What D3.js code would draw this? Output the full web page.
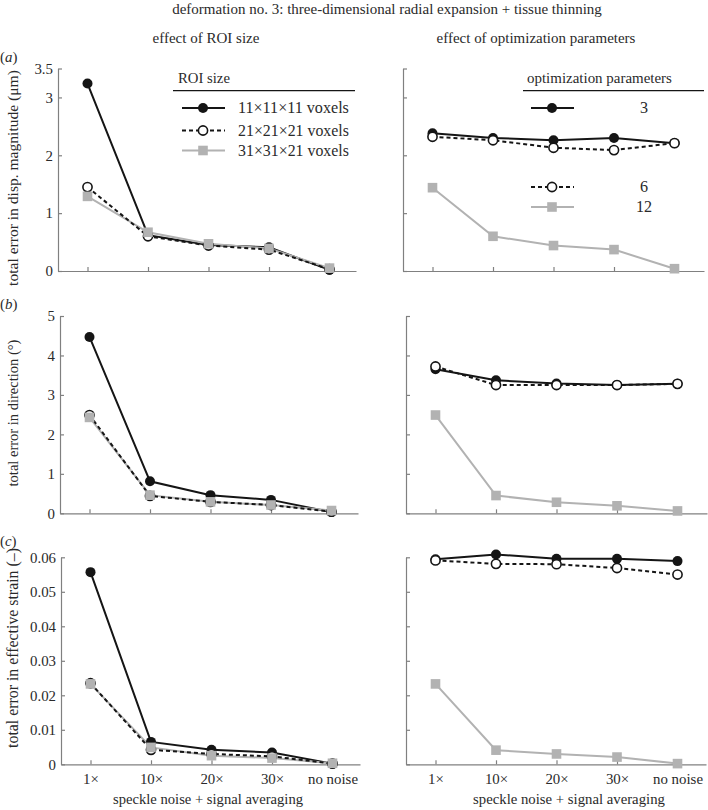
<!DOCTYPE html>
<html><head><meta charset="utf-8">
<script src="https://cdn.jsdelivr.net/npm/d3@7"></script>
<style>body{margin:0;background:#fff}svg{display:block}text{font-family:"Liberation Serif","Times New Roman",Times,serif;fill:#2a2a2a}</style>
</head><body>
<svg id="chart" width="708" height="810"></svg>
<script>
const categories = ["1×", "10×", "20×", "30×", "no noise"];
const roiLabels = ["11×11×11 voxels", "21×21×21 voxels", "31×31×21 voxels"];
const optLabels = ["3", "6", "12"];

const dispROI11 = [3.24, 0.62, 0.45, 0.41, 0.02];
const dispROI21 = [1.45, 0.60, 0.44, 0.37, 0.03];
const dispROI31 = [1.29, 0.67, 0.47, 0.39, 0.05];
const dispOpt3 = [2.38, 2.30, 2.26, 2.30, 2.21];
const dispOpt6 = [2.32, 2.26, 2.13, 2.09, 2.21];
const dispOpt12 = [1.44, 0.60, 0.44, 0.37, 0.04];

const dirROI11 = [4.47, 0.81, 0.46, 0.34, 0.03];
const dirROI21 = [2.49, 0.44, 0.29, 0.21, 0.04];
const dirROI31 = [2.43, 0.46, 0.29, 0.21, 0.07];
const dirOpt3 = [3.65, 3.37, 3.29, 3.25, 3.28];
const dirOpt6 = [3.72, 3.25, 3.25, 3.25, 3.28];
const dirOpt12 = [2.49, 0.45, 0.28, 0.19, 0.06];

const strainROI11 = [0.0557, 0.0065, 0.0042, 0.0034, 0.0002];
const strainROI21 = [0.0235, 0.0042, 0.0030, 0.0023, 0.0002];
const strainROI31 = [0.0233, 0.0049, 0.0025, 0.0018, 0.0003];
const strainOpt3 = [0.0594, 0.0608, 0.0596, 0.0596, 0.0589];
const strainOpt6 = [0.0591, 0.0581, 0.0580, 0.0569, 0.0550];
const strainOpt12 = [0.0233, 0.0041, 0.0030, 0.0021, 0.0002];

const dispTicks = [0, 1, 2, 3, 3.5];
const dirTicks = [0, 1, 2, 3, 4, 5];
const strainTicks = [0, 0.01, 0.02, 0.03, 0.04, 0.05, 0.06];

const svg = d3.select("#chart");
const BLACK = "#151515", GREY = "#b2b2b2", AXIS = "#808080";
const FONT = '"Liberation Serif","Times New Roman",Times,serif';

// font size calibrated so that "no noise" is ~50px wide
const probe = svg.append("text").style("font-family", FONT).style("font-size", "14px").text("no noise");
const TICK_FS = 14 * 50 / probe.node().getComputedTextLength();
probe.remove();

function fit(sel, w) {
  const l = sel.node().getComputedTextLength();
  const fs = parseFloat(sel.style("font-size"));
  sel.style("font-size", (fs * w / l) + "px");
  return sel;
}

const styles = [
  {stroke: BLACK, dash: null, marker: "dot"},
  {stroke: BLACK, dash: "4,3", marker: "open"},
  {stroke: GREY, dash: null, marker: "square"}
];

function drawMarker(g, type, x, y) {
  if (type === "dot") g.append("circle").attr("cx", x).attr("cy", y).attr("r", 5).attr("fill", BLACK);
  else if (type === "open") g.append("circle").attr("cx", x).attr("cy", y).attr("r", 4.6).attr("fill", "#fff").attr("stroke", BLACK).attr("stroke-width", 1.6);
  else g.append("rect").attr("x", x - 4.8).attr("y", y - 4.8).attr("width", 9.6).attr("height", 9.6).attr("fill", GREY);
}

function panel(opts) {
  const {x0, x1, yTop, yZero, domainMax, ticks, tickFmt, series, showYLabels, showXLabels} = opts;
  const step = 60.5, pad = 29.5;
  const x = d3.scaleLinear().domain([-pad / step, (x1 - x0 - pad) / step]).range([x0, x1]);
  const y = d3.scaleLinear().domain([0, domainMax]).range([yZero, yTop]);
  const g = svg.append("g");

  const xa = g.append("g").attr("transform", `translate(0,${yZero})`)
    .call(d3.axisBottom(x).tickValues(d3.range(categories.length)).tickSize(-4).tickSizeOuter(0).tickPadding(9)
      .tickFormat(i => showXLabels ? categories[i] : ""));
  const ya = g.append("g").attr("transform", `translate(${x0},0)`)
    .call(d3.axisLeft(y).tickValues(ticks).tickSize(-4).tickSizeOuter(0).tickPadding(5)
      .tickFormat(v => showYLabels ? tickFmt(v) : ""));
  [xa, ya].forEach(a => {
    a.select(".domain").attr("stroke", AXIS).attr("stroke-width", 1.2);
    a.selectAll(".tick line").attr("stroke", AXIS).attr("stroke-width", 1.2);
    a.selectAll(".tick text").style("font-family", FONT).style("font-size", TICK_FS + "px").attr("fill", "#2a2a2a");
  });

  const line = d3.line().x((d, i) => x(i)).y(d => y(d));
  [0, 2, 1].forEach(k => {
    g.append("path").attr("d", line(series[k])).attr("fill", "none")
      .attr("stroke", styles[k].stroke).attr("stroke-width", 2)
      .attr("stroke-dasharray", styles[k].dash);
  });
  [0, 1, 2].forEach(k => {
    series[k].forEach((v, i) => drawMarker(g, styles[k].marker, x(i), y(v)));
  });
}

const rows = [
  {yTop: 68.5, yZero: 271, max: 3.5, ticks: dispTicks, fmt: d => d === 3.5 ? "3.5" : String(d),
   left: [dispROI11, dispROI21, dispROI31], right: [dispOpt3, dispOpt6, dispOpt12], lx: 58, lx1: 356, rx: 403, rx1: 704, xl: false},
  {yTop: 316, yZero: 513.3, max: 5, ticks: dirTicks, fmt: d => String(d),
   left: [dirROI11, dirROI21, dirROI31], right: [dirOpt3, dirOpt6, dirOpt12], lx: 60, lx1: 358, rx: 406, rx1: 707, xl: false},
  {yTop: 557.3, yZero: 764.3, max: 0.06, ticks: strainTicks, fmt: d => d === 0 ? "0" : d3.format(".2f")(d),
   left: [strainROI11, strainROI21, strainROI31], right: [strainOpt3, strainOpt6, strainOpt12], lx: 61, lx1: 360, rx: 406, rx1: 706, xl: true}
];

rows.forEach(r => {
  panel({x0: r.lx, x1: r.lx1, yTop: r.yTop, yZero: r.yZero, domainMax: r.max, ticks: r.ticks, tickFmt: r.fmt,
         series: r.left, showYLabels: true, showXLabels: r.xl});
  panel({x0: r.rx, x1: r.rx1, yTop: r.yTop, yZero: r.yZero, domainMax: r.max, ticks: r.ticks, tickFmt: r.fmt,
         series: r.right, showYLabels: false, showXLabels: r.xl});
});

function txt(x, y, s, w, anchor) {
  const t = svg.append("text").attr("x", x).attr("y", y).attr("text-anchor", anchor || "middle")
    .style("font-family", FONT).style("font-size", "14px").text(s);
  if (w) fit(t, w);
  return t;
}

// titles
txt(387, 14, "deformation no. 3: three-dimensional radial expansion + tissue thinning", 430);
txt(206, 43, "effect of ROI size", 107);
txt(536, 43, "effect of optimization parameters", 199);

// panel letters
[["a", 62], ["b", 309], ["c", 546]].forEach(([l, yy]) => {
  const t = svg.append("text").attr("x", 0).attr("y", yy).style("font-family", FONT).style("font-size", TICK_FS + "px");
  t.append("tspan").text("(");
  t.append("tspan").style("font-style", "italic").text(l);
  t.append("tspan").text(")");
});

// y axis titles
[["total error in disp. magnitude (μm)", 178, 216], ["total error in direction (°)", 413, 147], ["total error in effective strain (–)", 648, 200]]
  .forEach(([s, cy, w]) => {
    const t = svg.append("text").attr("transform", `translate(18,${cy}) rotate(-90)`).attr("text-anchor", "middle")
      .style("font-family", FONT).style("font-size", "15px").text(s);
    fit(t, w);
  });

// x axis titles
txt(208, 804, "speckle noise + signal averaging", 190);
txt(569, 804, "speckle noise + signal averaging", 192);

// legends
function legendEntry(cx, cy, k) {
  const g = svg.append("g");
  g.append("line").attr("x1", cx - 21).attr("x2", cx + 22).attr("y1", cy).attr("y2", cy)
    .attr("stroke", styles[k].stroke).attr("stroke-width", 2).attr("stroke-dasharray", styles[k].dash);
  drawMarker(g, styles[k].marker, cx, cy);
}
txt(178, 83, "ROI size", 52, "start");
svg.append("line").attr("x1", 173).attr("x2", 355).attr("y1", 90.7).attr("y2", 90.7).attr("stroke", BLACK).attr("stroke-width", 1.3);
let legFs = 15;
[108, 130.5, 150.5].forEach((cy, k) => {
  legendEntry(203, cy, k);
  const t = txt(238, cy + 5, roiLabels[k], 111, "start");
  if (k === 0) legFs = parseFloat(t.style("font-size"));
});

txt(527, 83, "optimization parameters", 145, "start");
svg.append("line").attr("x1", 523).attr("x2", 704).attr("y1", 90.7).attr("y2", 90.7).attr("stroke", BLACK).attr("stroke-width", 1.3);
[108, 187, 207].forEach((cy, k) => {
  legendEntry(552, cy, k);
  txt(644, cy + 5, optLabels[k], null, "middle").style("font-size", legFs + "px");
});
</script>
</body></html>
